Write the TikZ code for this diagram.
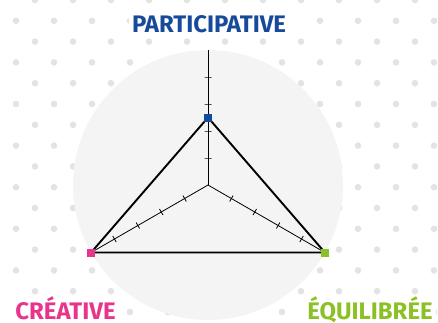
\documentclass[tikz,border=0pt]{standalone}
\usepackage{fontspec}
\setmainfont{Fira Sans}
\usetikzlibrary{calc}
\definecolor{dotgray}{HTML}{E3E3E3}
\definecolor{discgray}{HTML}{F4F4F4}
\definecolor{partblue}{HTML}{174A9B}
\definecolor{creapink}{HTML}{E8348B}
\definecolor{equigreen}{HTML}{8CC125}
\tikzset{
  bgdot/.style={fill=dotgray, draw=none},
  axisline/.style={draw=black, line width=0.8bp},
  axtick/.style={draw=black, line width=0.8bp, minimum width=0pt, minimum height=7bp, inner sep=0pt, sloped},
  triline/.style={draw=black, line width=1.9bp, line join=miter},
  marker/.style={rectangle, minimum size=8bp, inner sep=0pt, draw=none},
  lbl/.style={font=\fontsize{24}{24}\bfseries, fill=white, inner xsep=3bp, inner ysep=1.5bp, anchor=base}
}
\begin{document}
\begin{tikzpicture}[x=1bp, y=-1bp]
\useasboundingbox (0,0) rectangle (438,322);
% dotted background
\foreach \n in {0,...,15} {
  \pgfmathtruncatemacro{\odd}{mod(\n,2)}
  \pgfmathsetmacro{\yy}{20.8*\n}
  \ifnum\odd=0
    \foreach \k in {0,...,10} { \fill[bgdot] ({35+38*\k},\yy) circle (3.3); }
  \else
    \foreach \k in {0,...,11} { \fill[bgdot] ({16+38*\k},\yy) circle (3.3); }
  \fi
}
% disc
\fill[discgray] (208,185) circle (135);
% axes
\coordinate (c) at (208,185);
\coordinate (etop) at (208,50);
\coordinate (eleft) at (91.1,252.5);
\coordinate (eright) at (324.9,252.5);
\foreach \e in {etop,eleft,eright} {
  \draw[axisline] (c) -- (\e);
  \foreach \p in {0.2,0.4,0.6,0.8} {
    \path (c) -- (\e) node[axtick, pos=\p] {};
  }
}
% markers
\node[marker, fill=partblue] (pb) at (208,117.5) {};
\node[marker, fill=creapink] (pp) at (91.1,252.5) {};
\node[marker, fill=equigreen] (pg) at (324.9,252.5) {};
% triangle
\draw[triline] (pb.center) -- (pp.center) -- (pg.center) -- cycle;
\node[marker, fill=partblue] at (pb) {};
\node[marker, fill=creapink] at (pp) {};
\node[marker, fill=equigreen] at (pg) {};
% labels
\node[lbl, text=partblue] (lp) at (209,32) {PARTICIPATIVE};
\node[lbl, text=creapink] (lc) at (65.5,319) {CRÉATIVE};
\node[lbl, text=equigreen] (le) at (370,319) {ÉQUILIBRÉE};
\end{tikzpicture}
\end{document}
